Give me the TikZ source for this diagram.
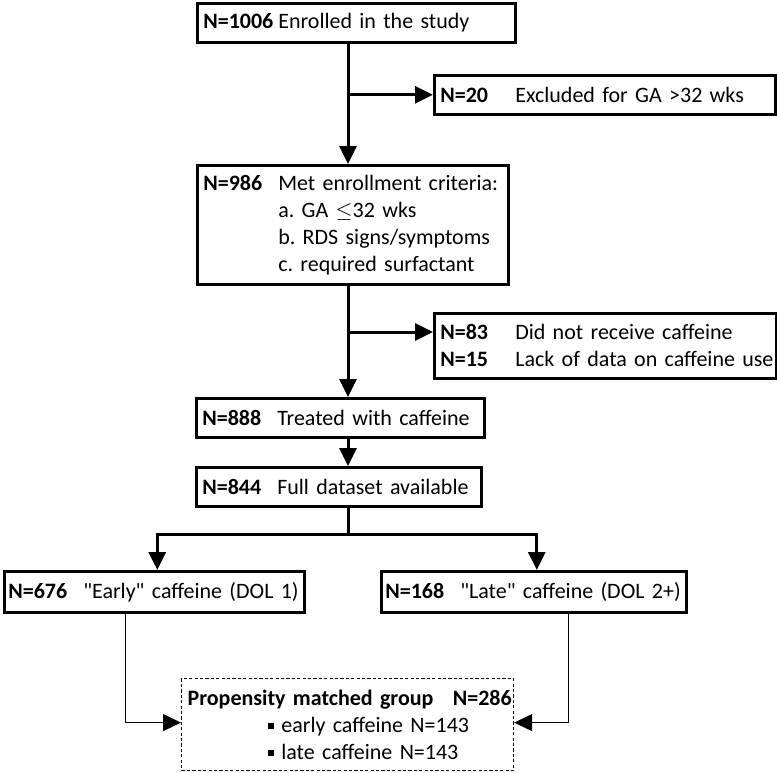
\documentclass[tikz,border=0pt]{standalone}
\usepackage{fontspec}
\setmainfont{Carlito}[WordSpace=0.8]
\usepackage{tikz}
\usetikzlibrary{arrows.meta, calc, positioning}
\tikzstyle{box} = [draw, line width=1.3pt, anchor=north west, align=left, inner xsep=3pt, inner ysep=0pt, font=\fontsize{11}{13.5}\selectfont]
\tikzstyle{dbox} = [box, line width=0.6pt, dash pattern=on 1.6pt off 1.1pt]
\tikzstyle{link} = [->, line width=0.6pt]
\newcommand{\nlab}[1]{\makebox[37.5pt][l]{\textbf{#1}}}
\newcommand{\sqb}{\rule[1.6pt]{3.2pt}{3.2pt}}

\begin{document}
\frenchspacing
\begin{tikzpicture}[>={Triangle[length=9pt,width=8.5pt]}, x=0.5pt, y=-0.5pt, line width=1.5pt]
        \useasboundingbox (0,0) rectangle (777,772);
        \node[box, text width=153pt, minimum height=19.5pt] (enr) at (196,2) {\nlab{N=1006}\mbox{Enrolled in the study}};
        \node[box, text width=164.5pt, minimum height=19.5pt] (excl) at (433,74) {\nlab{N=20}\mbox{Excluded for GA >32 wks}};
        \node[box, text width=149.5pt, minimum height=59.5pt] (met) at (196,164) {\nlab{N=986}\mbox{Met enrollment criteria:}\\ \nlab{}a. GA $\leq$32 wks\\ \nlab{}b. RDS signs/symptoms\\ \nlab{}c. required surfactant};
        \node[box, text width=165pt, minimum height=32.5pt] (nocaf) at (433,312) {\nlab{N=83}\mbox{Did not receive caffeine}\\ \nlab{N=15}\mbox{Lack of data on caffeine use}};
        \node[box, text width=138pt, minimum height=19.5pt] (treat) at (195,397) {\nlab{N=888}\mbox{Treated with caffeine}};
        \node[box, text width=136.5pt, minimum height=19.5pt] (full) at (195,466) {\nlab{N=844}\mbox{Full dataset available}};
        \node[box, text width=146pt, minimum height=20.5pt, inner xsep=2pt] (early) at (3,570) {\nlab{N=676}\mbox{\textquotedbl Early\textquotedbl{} caffeine (DOL 1)}};
        \node[box, text width=148.5pt, minimum height=20.5pt, inner xsep=2pt] (late) at (380,570) {\nlab{N=168}\mbox{\textquotedbl Late\textquotedbl{} caffeine (DOL 2+)}};
        \node[dbox, text width=160pt, minimum height=46pt] (psm) at (181,678) {\mbox{\textbf{Propensity matched group\hspace{6pt} N=286}}\\ \hspace*{40pt}\sqb\ early caffeine N=143\\ \hspace*{40pt}\sqb\ late caffeine N=143};

        \coordinate (spine) at (348,0);
        \coordinate (nocafin) at ($(nocaf.north west)+(0,20)$);

        \draw[->] (enr.south -| spine) -- (met.north -| spine);
        \draw[->] (spine |- excl.west) -- (excl.west);
        \draw[->] (met.south -| spine) -- (treat.north -| spine);
        \draw[->] (spine |- nocafin) -- (nocafin);
        \draw[->] (treat.south -| spine) -- (full.north -| spine);
        \draw (full.south -| spine) -- ++(0,27) coordinate (split);
        \draw[->] (split) -| ($(early.north)+(3,0)$);
        \draw[->] (split) -| ($(late.north)+(3,0)$);

        \draw[link] ($(early.south)+(-29,0)$) |- ($(psm.west)+(0,-2)$);
        \draw[link] ($(late.south)+(35,0)$) |- ($(psm.east)+(0,-2)$);
    \end{tikzpicture}
\end{document}
